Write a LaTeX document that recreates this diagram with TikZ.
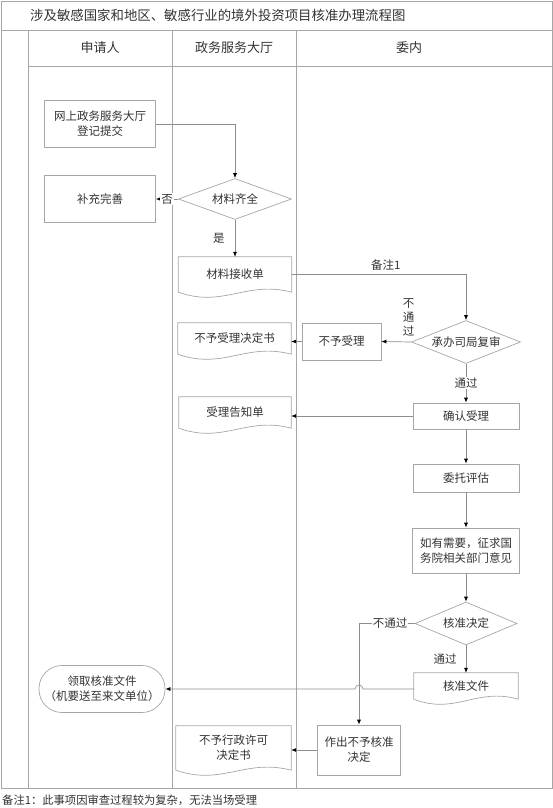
\documentclass[tikz,border=0pt]{standalone}
\usepackage{fontspec}
\setmainfont{Noto Sans CJK SC}
\usepackage{tikz}
\usetikzlibrary{
arrows.meta,
calc,
shapes.geometric,
}
\definecolor{lane}{HTML}{A6A6A6}
\definecolor{ink}{HTML}{333333}

\begin{document}
\begin{tikzpicture}[x=1pt, y=-1pt,
		every node/.style={text=ink, font=\fontsize{11.5}{15}\selectfont, inner sep=0pt},
		box/.style={draw=lane, line width=.7pt, align=center},
		doc/.style={align=center},
		dec/.style={draw=lane, line width=.7pt, diamond, aspect=2.6},
		term/.style={draw=lane, line width=.7pt, rounded corners=23pt, align=center},
		lbl/.style={fill=white, inner sep=1pt},
		arr/.style={draw=lane!85!black, line width=.7pt, -{Latex[black,length=5pt,width=4pt]}},
		frame/.style={draw=lane, line width=.8pt},
	]
		\useasboundingbox (0,0) rectangle (553,808);

		% lanes
		\draw[frame] (1,1) rectangle (552,788);
		\draw[frame] (1,30) -- (552,30);
		\draw[frame] (28,30) -- (28,788);
		\draw[frame] (28,66) -- (552,66);
		\draw[frame] (172,30) -- (172,788);
		\draw[frame] (296,30) -- (296,788);

		\node (title) at (30,15)[anchor=west, font=\fontsize{13.4}{16}\selectfont]{涉及敏感国家和地区、敏感行业的境外投资项目核准办理流程图};
		\node (hApp) at (100,48)[font=\fontsize{13}{16}\selectfont]{申请人};
		\node (hHall) at (234,48)[font=\fontsize{13}{16}\selectfont]{政务服务大厅};
		\node (hComm) at (409,48)[font=\fontsize{13}{16}\selectfont]{委内};

		\node (submit) at (100,124)[box, minimum width=111, minimum height=47]{网上政务服务大厅\\登记提交};
		\node (supp) at (100,199)[box, minimum width=111, minimum height=47]{补充完善};
		\node (chk) at (235,199)[dec, minimum width=113, minimum height=41]{材料齐全};
		\node (recv) at (235,274.5)[doc, minimum width=113, minimum height=35]{材料接收单};
		\node (rev) at (466,342)[dec, minimum width=109, minimum height=43]{承办司局复审};
		\node (nr) at (341.5,341.5)[box, minimum width=79, minimum height=37]{不予受理};
		\node (rejdoc) at (234.5,338.5)[doc, minimum width=113, minimum height=31]{不予受理决定书};
		\node (acc) at (466,416)[box, minimum width=106, minimum height=26]{确认受理};
		\node (notice) at (235,412.5)[doc, minimum width=112, minimum height=31]{受理告知单};
		\node (eval) at (466,478)[box, minimum width=106, minimum height=28]{委托评估};
		\node (opin) at (466,550.5)[box, minimum width=107, minimum height=45]{如有需要，征求国\\务院相关部门意见};
		\node (dec) at (466,623.5)[dec, minimum width=102, minimum height=43]{核准决定};
		\node (appr) at (466,686)[doc, minimum width=104, minimum height=26]{核准文件};
		\node (get) at (102,689)[term, minimum width=126, minimum height=47]{领取核准文件\\（机要送至来文单位）};
		\node (deny) at (359,750)[box, minimum width=83, minimum height=50]{作出不予核准\\决定};
		\node (denydoc) at (233.5,748)[doc, minimum width=115, minimum height=44]{不予行政许可\\决定书};

		\foreach \n in {recv, rejdoc, notice, appr, denydoc}
			\draw[lane, line width=.7pt] (\n.south west) -- (\n.north west) -- (\n.north east) -- (\n.south east)
				.. controls ($(\n.south west)!.6!(\n.south east)+(0,-12)$) and ($(\n.south west)!.4!(\n.south east)+(0,16)$) .. (\n.south west);

		\draw[arr] (submit.east) -| (chk.north);
		\draw[arr] (chk.west) -- node[lbl]{否} (supp.east);
		\draw[arr] (chk.south) -- node[left=10pt]{是} (recv.north);
		\draw[arr] (recv.east) -| node[pos=.27, above=4pt]{备注1} (rev.north);
		\draw[arr] (rev.west) -- node[pos=0, anchor=south, xshift=-2.5pt, yshift=5pt, align=center, font=\fontsize{11.5}{14}\selectfont]{不\\通\\过} (nr.east);
		\draw[arr] (nr.west) -- (nr.west -| rejdoc.east);
		\draw[arr] (rev.south) -- node[lbl]{通过} (acc.north);
		\draw[arr] (acc.west) -- (acc.west -| notice.east);
		\draw[arr] (acc.south) -- (eval.north);
		\draw[arr] (eval.south) -- (opin.north);
		\draw[arr] (opin.south) -- (dec.north);
		\draw[arr] (dec.west) -| node[pos=.22, lbl]{不通过} (deny.north);
		\draw[arr] (dec.south) -- node[left=9pt]{通过} (appr.north);
		\coordinate (hop) at ([yshift=-3pt]appr.west -| deny.north);
		\draw[arr] ([yshift=-3pt]appr.west) -- ([xshift=4pt]hop) arc[start angle=0, end angle=180, radius=4pt] -- (hop -| get.east);
		\draw[arr] (deny.west) -- (deny.west -| denydoc.east);

		\node (note) at (2,800)[anchor=west, font=\fontsize{11.3}{14}\selectfont]{备注1：此事项因审查过程较为复杂，无法当场受理};
	\end{tikzpicture}
\end{document}
